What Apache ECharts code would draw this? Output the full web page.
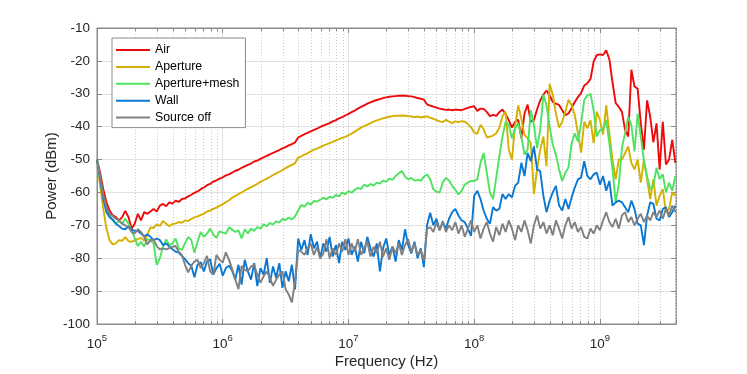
<!DOCTYPE html>
<html><head><meta charset="utf-8">
<script src="https://cdn.jsdelivr.net/npm/echarts@6/dist/echarts.min.js"></script>
<style>html,body{margin:0;padding:0;background:#fff}#c{width:747px;height:374px}</style>
</head><body><div id="c"></div>
<script>
// x grid: log10(frequency / Hz), 1e5 ... 4e9
const freqExp = Array.from({length: 185}, (_, i) => +(5 + 0.025 * i).toFixed(3));
const xDecades = [5, 6, 7, 8, 9];
const minorFactors = [2, 3, 4, 5, 6, 7, 8, 9];
const yTicks = [-100, -90, -80, -70, -60, -50, -40, -30, -20, -10];
const seriesNames = ['Air', 'Aperture', 'Aperture+mesh', 'Wall', 'Source off'];

const air = [-50,-54,-59,-63,-65.5,-67,-67.5,-68.5,-67.5,-65.6,
-67.5,-71,-69.5,-66.5,-68.5,-66,-66.5,-65.8,-65,-65.8,
-64,-63.5,-64.2,-63,-63.4,-62.5,-62.9,-62,-61.8,-61.2,
-60.7,-60.1,-59.7,-59,-58.5,-57.8,-57.4,-56.7,-56.3,-55.8,
-55.4,-54.8,-54.5,-54,-53.4,-53.1,-52.5,-52.1,-51.6,-51.2,
-50.6,-50.3,-49.8,-49.3,-48.9,-48.4,-48,-47.5,-47.1,-46.6,
-46.2,-45.7,-45.3,-44.8,-43.3,-42.8,-42.3,-41.9,-41.4,-41,
-40.6,-40.1,-39.7,-39.3,-38.9,-38.4,-38,-37.5,-37.1,-36.6,
-36.1,-35.6,-35.1,-34.5,-34,-33.5,-33,-32.6,-32.2,-31.9,
-31.6,-31.3,-31.1,-30.9,-30.8,-30.7,-30.6,-30.6,-30.6,-30.7,
-30.8,-31,-31.3,-31.5,-31.8,-33.2,-33.6,-33.9,-34.2,-34.5,
-34.7,-34.9,-34.8,-35,-34.8,-34.9,-35,-34.6,-34.3,-34,
-33.8,-35.2,-34.5,-34.6,-35.5,-36.8,-36.4,-36.7,-35.6,-34.8,
-36.2,-38,-40.3,-38.5,-37.9,-43.5,-36,-33.3,-38.5,-38,
-34.8,-32,-30.3,-29,-30.5,-32.5,-33,-33.4,-35,-36.5,
-36,-34.3,-32.5,-31,-29.8,-27.5,-26.8,-25.5,-20.2,-18.2,
-18,-18.2,-16.8,-19.5,-26.5,-32.8,-34,-35.5,-41,-43,
-22.7,-27.8,-28.5,-39,-47,-32,-37,-44.8,-39,-53,
-38.5,-51.5,-50,-44,-51];

const aperture = [-50,-58,-65,-71,-74.5,-75.8,-75.5,-74.5,-74.7,-73.6,
-74.8,-75,-74.6,-74.2,-73.8,-74.7,-73,-70.6,-70.8,-69.7,
-70.2,-68.7,-69.5,-70.3,-69.6,-69.4,-69,-69.2,-68.5,-68.7,
-68,-67.6,-67.3,-66.8,-66.5,-65.8,-65.5,-65,-64.6,-64,
-63.6,-62.9,-62.4,-61.6,-61.1,-60.5,-60,-59.4,-58.9,-58.4,
-57.9,-57.4,-56.8,-56.3,-55.8,-55.3,-54.7,-54.2,-53.7,-53.2,
-52.6,-52.1,-51.6,-51.1,-49.4,-49,-48.5,-48.1,-47.5,-47,
-46.7,-46.2,-45.8,-45.4,-45,-44.6,-44.2,-43.8,-43.4,-43.1,
-42.6,-42.1,-41.5,-40.9,-40.3,-39.8,-39.4,-38.9,-38.5,-38.1,
-37.8,-37.5,-37.2,-37,-36.8,-36.7,-36.7,-36.6,-36.7,-36.8,
-36.9,-37.1,-36.9,-37.2,-37,-36.9,-37.3,-37.6,-38,-38.4,
-38.6,-37.9,-38.5,-38.9,-38.4,-38.6,-38.3,-38.5,-39.2,-40.2,
-41.8,-42.2,-39.4,-40.8,-43.3,-43,-42.7,-42,-40.3,-36.8,
-35.5,-47,-50,-40,-33.5,-37.6,-42.5,-43.5,-45,-60.5,
-53,-47,-43,-52,-27,-30.3,-36,-40.3,-38.5,-35.4,
-31.8,-33.5,-36.5,-42,-47.9,-38.5,-40.5,-38,-45,-35.4,
-38,-42.4,-33.5,-42,-50,-56,-50,-50,-48,-46,
-51,-53,-50,-57,-50,-56,-62,-56,-64,-61,
-59,-66,-65,-60,-61];

const apertureMesh = [-50,-56,-61,-65,-67,-68.5,-69.5,-68.7,-69.5,-68,
-69.5,-71.5,-74,-76.3,-75,-76.4,-74.2,-74.6,-75.5,-82,
-80,-76.5,-74.3,-76,-75.5,-74,-77,-77.5,-75.5,-73.5,
-74.5,-78.3,-75,-72,-73.5,-72.5,-71,-72.8,-73.8,-71.8,
-72.2,-72.5,-70.6,-71.3,-72,-71.5,-74,-71.2,-72.5,-71,
-71.7,-70.5,-71,-69.7,-70.3,-69.3,-69.7,-68.8,-69.2,-68,
-68.4,-67.6,-68.2,-67.3,-65.5,-63.8,-64.3,-63.2,-63.6,-62.6,
-62.8,-62.2,-61.6,-62.1,-61.3,-61.6,-60.8,-61.2,-60,-60.6,
-59.6,-60.1,-59.2,-58.6,-59,-57.6,-58.2,-57.4,-57.9,-57,
-57.3,-56.4,-56.8,-55.8,-56.2,-55,-54.2,-53.5,-55.2,-56,
-55.6,-56.4,-56.2,-56.5,-55.2,-54.5,-56,-59,-59.8,-60,
-57,-55.5,-56.4,-58,-59.2,-60.6,-59.5,-57.6,-57,-56.5,
-56.5,-56,-51,-48,-54,-60,-62,-55.5,-49,-43,
-38.5,-39.5,-43.5,-40.5,-39,-43,-48.5,-47,-35,-39.5,
-46.5,-41,-30.3,-33.5,-40,-45.5,-48.5,-53,-56.5,-54,
-52.4,-45,-42,-44.5,-39,-32,-30.5,-30,-35,-43,
-41,-41,-38,-45,-53,-63,-57.6,-46.4,-42,-37,
-39.5,-47.5,-36,-43,-50.5,-55,-59,-58,-52.5,-56,
-54.5,-60,-57,-59.5,-55];

const wall = [-50,-56,-62,-66,-67.5,-68.2,-69.5,-70.2,-71,-71.2,
-70.3,-71.3,-71.7,-71.7,-72.5,-73.3,-72.8,-73.5,-74.5,-74,
-74.5,-76,-75.5,-76.5,-77.3,-78,-78.3,-79.3,-80.3,-81.5,
-82.3,-85.8,-82,-81.2,-84,-81,-80.3,-85,-83,-81.7,
-85.3,-83,-82.3,-83.8,-86.5,-82,-88,-80.5,-84,-86.5,
-81.5,-88.5,-83,-85,-80,-87.5,-82.5,-86,-81.5,-89,
-84,-87,-82,-89.5,-74,-77.5,-74.5,-79,-72.7,-77,
-75,-80,-75.5,-78,-73.5,-79.5,-76,-81.5,-75,-77.5,
-74,-79,-76.5,-81,-75,-78.5,-73.5,-77,-79.5,-75.5,
-84,-77,-74,-79,-76.5,-81,-74.5,-77.5,-71.2,-76,
-78.5,-75,-80,-77,-82.7,-70,-66.2,-70,-68,-71.5,
-69,-71,-68,-66,-65,-67,-68.5,-69,-71,-73.2,
-61,-59.5,-62,-65.5,-68,-69.5,-64.5,-65.5,-65,-60.5,
-62,-60.5,-61.5,-58,-57,-51,-55,-48,-50.5,-46,
-53,-53.5,-61,-66,-62.5,-60,-58,-64,-65.5,-62,
-65,-61.5,-58.5,-56,-55.5,-50.5,-55,-56,-54.5,-54,
-57.6,-55,-59.5,-56.5,-64,-63,-62.5,-63,-64.5,-66,
-62.5,-65,-69.5,-70,-76,-67,-63,-63.5,-68,-68.5,
-65,-64.5,-67.5,-66,-64];

const sourceOff = [-50,-55,-61,-64.5,-66.5,-67.2,-68,-68.5,-69.5,-70,
-70.5,-72,-72.5,-71.2,-72,-73.5,-75.8,-74.5,-74.3,-76.3,
-77.3,-77,-77.3,-76.9,-76.5,-76.3,-78,-79,-82,-84.3,
-82.3,-81,-80.5,-83,-81.5,-79.3,-84,-85,-79,-80.5,
-81.3,-78.2,-80.5,-83.3,-86.5,-89.4,-82.3,-83.5,-84,-82.5,
-82,-85,-87.4,-85.5,-84,-86,-88.4,-86.5,-85,-84,
-89.4,-91,-93.4,-87,-77.5,-78,-79,-77,-75.6,-79,
-76.6,-80,-78.6,-74.2,-80,-77,-79,-75.5,-78,-74.2,
-79,-75.5,-78,-74.2,-79,-77,-75,-79.5,-76.5,-78.5,
-75,-79.5,-77,-80.5,-76.5,-78.5,-75.5,-79,-76,-74.2,
-78,-75.5,-79,-77.5,-80.8,-71.2,-70.5,-72,-69.2,-71.5,
-68.7,-72,-70,-71.5,-69,-72.5,-70,-73.5,-71,-68.5,
-72,-70,-74,-71,-69,-72.5,-75,-70.5,-73,-69.5,
-72,-68.5,-71,-74.5,-70,-72,-68.5,-71.5,-75.5,-70,
-67,-71,-69,-72.5,-70,-73,-68.5,-71,-74,-70,
-67.5,-71,-69,-72,-70.5,-73.5,-74,-71,-72.5,-70,
-71.5,-68.5,-66,-69,-70.5,-68,-71,-67,-66,-69,
-67.5,-70,-68,-66.5,-69,-67,-68.5,-66,-67.5,-65.5,
-68,-65,-67,-64,-66];

const seriesValues = [air, aperture, apertureMesh, wall, sourceOff];
const seriesColors = ['#ee0a0a', '#d4b000', '#4de35f', '#0a78d2', '#808080'];

const X_MIN = 5, X_MAX = 9.605, Y_MIN = -100, Y_MAX = -10;
const FONT = '"Liberation Sans", Arial, Helvetica, sans-serif';
const AXIS_COLOR = '#8a8a8a';
const GRID_COLOR = '#e1e1e1';
const MINOR_GRID_COLOR = '#cccccc';
const TEXT_COLOR = '#262626';

const minorPos = [];
xDecades.forEach(d => minorFactors.forEach(k => {
  const v = d + Math.log10(k);
  if (v < X_MAX) minorPos.push([v, Y_MIN]);
}));

const chart = echarts.init(document.getElementById('c'), null, {renderer: 'canvas'});

const lineSeries = seriesNames.map((name, s) => ({
  name, type: 'line', xAxisIndex: 0, yAxisIndex: 0,
  data: freqExp.map((x, i) => [x, seriesValues[s][i]]),
  symbol: 'none', showSymbol: false, smooth: false, sampling: null,
  legendIcon: 'rect',
  lineStyle: {color: seriesColors[s], width: 1.9},
  itemStyle: {color: seriesColors[s]},
  z: 3, animation: false
}));

const minorSeries = {
  type: 'custom', xAxisIndex: 0, yAxisIndex: 0, silent: true, z: 1,
  data: minorPos, encode: {x: 0, y: 1},
  renderItem: function (params, api) {
    const x = api.value(0);
    const top = api.coord([x, Y_MAX]);
    const bot = api.coord([x, Y_MIN]);
    const px = Math.round(top[0]) + 0.5;
    return {
      type: 'group', children: [
        {type: 'line', shape: {x1: px, y1: top[1], x2: px, y2: bot[1]},
          style: {stroke: MINOR_GRID_COLOR, lineWidth: 1, lineDash: [1, 2]}},
        {type: 'line', shape: {x1: px, y1: bot[1], x2: px, y2: bot[1] - 3},
          style: {stroke: AXIS_COLOR, lineWidth: 1}},
        {type: 'line', shape: {x1: px, y1: top[1], x2: px, y2: top[1] + 3},
          style: {stroke: AXIS_COLOR, lineWidth: 1}}
      ]
    };
  }
};

const option = {
  animation: false,
  backgroundColor: '#ffffff',
  grid: {left: 97, right: 71, top: 28, bottom: 49, containLabel: false,
    show: true, borderColor: AXIS_COLOR, borderWidth: 1, backgroundColor: 'transparent'},
  legend: {
    data: seriesNames, orient: 'vertical', left: 112, top: 38,
    icon: 'rect', itemWidth: 34, itemHeight: 2, itemGap: 2.9,
    backgroundColor: '#ffffff', borderColor: AXIS_COLOR, borderWidth: 1,
    padding: [5, 6, 3, 4], borderRadius: 0,
    textStyle: {fontFamily: FONT, fontSize: 12.3, lineHeight: 14, color: '#000'},
    selectedMode: false, z: 10
  },
  xAxis: [{
    type: 'value', min: X_MIN, max: X_MAX, interval: 1, position: 'bottom',
    axisLine: {show: true, onZero: false, lineStyle: {color: AXIS_COLOR, width: 1}},
    axisTick: {show: true, inside: true, length: 5, lineStyle: {color: AXIS_COLOR}},
    splitLine: {show: true, lineStyle: {color: GRID_COLOR, width: 1}},
    axisLabel: {
      show: true, margin: 9, color: TEXT_COLOR, fontFamily: FONT,
      formatter: function (v) {
        if (Math.abs(v - Math.round(v)) > 1e-6) return '';
        return '{b|10}{e|' + Math.round(v) + '}';
      },
      rich: {
        b: {fontSize: 13.5, fontFamily: FONT, color: TEXT_COLOR, lineHeight: 18, verticalAlign: 'bottom'},
        e: {fontSize: 9.5, fontFamily: FONT, color: TEXT_COLOR, lineHeight: 6, verticalAlign: 'top'}
      }
    },
    name: 'Frequency (Hz)', nameLocation: 'middle', nameGap: 30, nameMoveOverlap: false,
    nameTextStyle: {fontFamily: FONT, fontSize: 15, color: TEXT_COLOR}
  }, {
    type: 'value', min: X_MIN, max: X_MAX, interval: 1, position: 'top',
    axisLine: {show: true, onZero: false, lineStyle: {color: AXIS_COLOR, width: 1}},
    axisTick: {show: true, inside: true, length: 5, lineStyle: {color: AXIS_COLOR}},
    axisLabel: {show: false}, splitLine: {show: false}
  }],
  yAxis: [{
    type: 'value', min: Y_MIN, max: Y_MAX, interval: 10, position: 'left',
    axisLine: {show: true, onZero: false, lineStyle: {color: AXIS_COLOR, width: 1}},
    axisTick: {show: true, inside: true, length: 5, lineStyle: {color: AXIS_COLOR}},
    splitLine: {show: true, lineStyle: {color: GRID_COLOR, width: 1}},
    axisLabel: {show: true, margin: 7, fontSize: 13.5, fontFamily: FONT, color: TEXT_COLOR},
    name: 'Power (dBm)', nameLocation: 'middle', nameGap: 38, nameMoveOverlap: false,
    nameTextStyle: {fontFamily: FONT, fontSize: 15, color: TEXT_COLOR}
  }, {
    type: 'value', min: Y_MIN, max: Y_MAX, interval: 10, position: 'right',
    axisLine: {show: true, onZero: false, lineStyle: {color: AXIS_COLOR, width: 1}},
    axisTick: {show: true, inside: true, length: 5, lineStyle: {color: AXIS_COLOR}},
    axisLabel: {show: false}, splitLine: {show: false}
  }],
  series: [minorSeries].concat(lineSeries)
};
chart.setOption(option);
</script>
</body></html>
